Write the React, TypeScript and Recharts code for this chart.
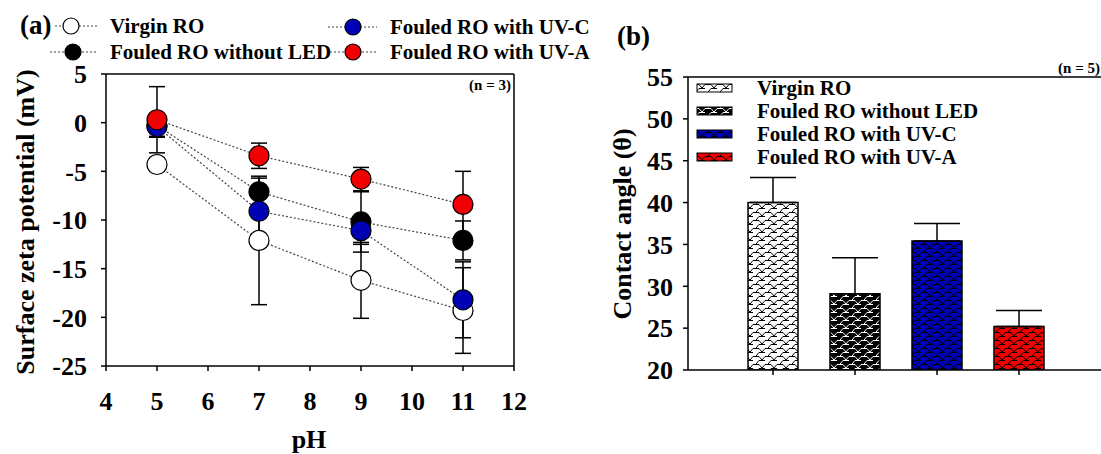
import {
  LineChart,
  Line,
  BarChart,
  Bar,
  Cell,
  XAxis,
  YAxis,
  ErrorBar,
  ReferenceLine,
  Label,
} from 'recharts';

const FONT = '"Liberation Serif", "Times New Roman", serif';

// (a) surface zeta potential vs pH
const PH = [5, 7, 9, 11];
const PH_TICKS = [4, 5, 6, 7, 8, 9, 10, 11, 12];
const ZETA_TICKS = [-25, -20, -15, -10, -5, 0, 5];
const VIRGIN_ZETA = [-4.3, -12.1, -16.2, -19.3];
const VIRGIN_ZETA_ERR = [0.7, 6.6, 3.9, 4.4];
const NO_LED_ZETA = [-0.3, -7.1, -10.2, -12.1];
const NO_LED_ZETA_ERR = [1.2, 1.4, 3.1, 2.0];
const UVC_ZETA = [-0.4, -9.1, -11.1, -18.2];
const UVC_ZETA_ERR = [1.0, 2.3, 1.4, 3.9];
const UVA_ZETA = [0.3, -3.4, -5.8, -8.4];
const UVA_ZETA_ERR = [3.4, 1.3, 1.2, 3.4];

// (b) contact angle
const MEMBRANES = ['Virgin RO', 'Fouled RO without LED', 'Fouled RO with UV-C', 'Fouled RO with UV-A'];
const CONTACT_ANGLE = [40.0, 29.1, 35.4, 25.2];
const CONTACT_ANGLE_ERR = [3.0, 4.3, 2.1, 1.9];
const ANGLE_TICKS = [20, 25, 30, 35, 40, 45, 50, 55];

const SERIES = [
  { key: 'virgin', color: '#ffffff', hatch: '#000000' },
  { key: 'noLed', color: '#000000', hatch: '#ffffff' },
  { key: 'uvc', color: '#0000b4', hatch: '#000000' },
  { key: 'uva', color: '#f00000', hatch: '#000000' },
];

const zetaRows = PH.map((ph, i) => ({
  ph,
  virgin: VIRGIN_ZETA[i],
  virginErr: VIRGIN_ZETA_ERR[i],
  noLed: NO_LED_ZETA[i],
  noLedErr: NO_LED_ZETA_ERR[i],
  uvc: UVC_ZETA[i],
  uvcErr: UVC_ZETA_ERR[i],
  uva: UVA_ZETA[i],
  uvaErr: UVA_ZETA_ERR[i],
}));

const angleRows = MEMBRANES.map((name, i) => ({
  name,
  angle: CONTACT_ANGLE[i],
  err: [0, CONTACT_ANGLE_ERR[i]],
}));

const tickStyle = { fontSize: 26, fontWeight: 700, fill: '#000', fontFamily: FONT };
const textStyle = { fontWeight: 700, fill: '#000', fontFamily: FONT };

// staggered slanted-brick fill like the original hatch
function Patterns({ prefix }: { prefix: string }) {
  return (
    <defs>
      {SERIES.map((s) => (
        <pattern key={s.key} id={`${prefix}-${s.key}`} width={12} height={8} patternUnits="userSpaceOnUse">
          <rect width={12} height={8} fill={s.color} />
          <path
            d="M0,4 L3,0.5 H9 M6,8 L9,4.5 H12 M-3,4.5 H3 L6,8 M3,4.5"
            fill="none"
            stroke={s.hatch}
            strokeWidth={1}
          />
        </pattern>
      ))}
    </defs>
  );
}

function ZetaLegend() {
  const items = [
    { label: 'Virgin RO', s: SERIES[0], x1: 55, x2: 97, cx: 71, tx: 110, y: 26 },
    { label: 'Fouled RO without LED', s: SERIES[1], x1: 50, x2: 97, cx: 73, tx: 110, y: 52 },
    { label: 'Fouled RO with UV-C', s: SERIES[2], x1: 328, x2: 377, cx: 353, tx: 390, y: 27 },
    { label: 'Fouled RO with UV-A', s: SERIES[3], x1: 330, x2: 377, cx: 353, tx: 390, y: 52 },
  ];
  return (
    <svg width={600} height={70} style={{ position: 'absolute', left: 0, top: 0 }}>
      <text x={20} y={34} style={{ ...textStyle, fontSize: 27 }}>(a)</text>
      {items.map((it) => (
        <g key={it.label}>
          <line x1={it.x1} x2={it.x2} y1={it.y} y2={it.y} stroke="#444" strokeWidth={1.2} strokeDasharray="2 2" />
          <circle cx={it.cx} cy={it.y} r={8} fill={it.s.color} stroke="#000" strokeWidth={1.2} />
          <text x={it.tx} y={it.y + 7} style={{ ...textStyle, fontSize: 21 }}>{it.label}</text>
        </g>
      ))}
    </svg>
  );
}

function AngleLegend() {
  const ys = [88, 111, 134, 157];
  return (
    <svg width={501} height={200} style={{ position: 'absolute', left: 600, top: 0 }}>
      <Patterns prefix="lg" />
      <text x={17} y={45} style={{ ...textStyle, fontSize: 27 }}>(b)</text>
      <text x={500} y={73} textAnchor="end" style={{ ...textStyle, fontSize: 15 }}>(n = 5)</text>
      {MEMBRANES.map((m, i) => (
        <g key={m}>
          <rect x={97} y={ys[i] - 4} width={35} height={8} fill={`url(#lg-${SERIES[i].key})`} stroke="#000" strokeWidth={1} />
          <text x={157} y={ys[i] + 7} style={{ ...textStyle, fontSize: 21 }}>{m}</text>
        </g>
      ))}
    </svg>
  );
}

export default function App() {
  return (
    <div style={{ position: 'absolute', left: 0, top: 0, width: 1101, height: 454, background: '#fff', overflow: 'hidden' }}>
      <div style={{ position: 'absolute', left: 0, top: 0 }}>
        <LineChart width={560} height={454} data={zetaRows} margin={{ top: 74, right: 46, bottom: 0, left: 0 }}>
          <XAxis
            dataKey="ph"
            type="number"
            domain={[4, 12]}
            ticks={PH_TICKS}
            allowDataOverflow
            height={88}
            tick={tickStyle}
            tickSize={5}
            tickMargin={21}
            stroke="#000"
            strokeWidth={1.5}
          >
            <Label
              content={() => (
                <text x={309} y={448} textAnchor="middle" style={{ ...textStyle, fontSize: 26 }}>pH</text>
              )}
            />
          </XAxis>
          <YAxis
            type="number"
            domain={[-25, 5]}
            ticks={ZETA_TICKS}
            allowDataOverflow
            width={106}
            tick={tickStyle}
            tickSize={5}
            tickMargin={14}
            stroke="#000"
            strokeWidth={1.5}
          >
            <Label
              content={() => (
                <text
                  x={25}
                  y={222}
                  transform="rotate(-90 25 222)"
                  textAnchor="middle"
                  dominantBaseline="central"
                  style={{ ...textStyle, fontSize: 26 }}
                >
                  Surface zeta potential (mV)
                </text>
              )}
            />
          </YAxis>
          <ReferenceLine y={5} stroke="#000" strokeWidth={1.5} />
          <ReferenceLine x={12} stroke="#000" strokeWidth={1.5} />
          {SERIES.map((s) => (
            <Line
              key={s.key}
              dataKey={s.key}
              stroke="#444"
              strokeWidth={1.2}
              strokeDasharray="2 2"
              isAnimationActive={false}
              activeDot={false}
              dot={(p: any) => (
                <circle key={`${s.key}-${p.index}`} cx={p.cx} cy={p.cy} r={10} fill={s.color} stroke="#000" strokeWidth={1.2} />
              )}
            >
              <ErrorBar dataKey={`${s.key}Err`} width={8} stroke="#000" strokeWidth={1.5} direction="y" />
            </Line>
          ))}
        </LineChart>
        <svg width={560} height={454} style={{ position: 'absolute', left: 0, top: 0, pointerEvents: 'none' }}>
          <text x={511} y={90} textAnchor="end" style={{ ...textStyle, fontSize: 15 }}>(n = 3)</text>
        </svg>
      </div>
      <ZetaLegend />
      <div style={{ position: 'absolute', left: 600, top: 0 }}>
        <BarChart width={501} height={454} data={angleRows} margin={{ top: 77, right: 0, bottom: 0, left: 0 }}>
          <Patterns prefix="bar" />
          <XAxis
            dataKey="name"
            height={84}
            padding={{ left: 44, right: 41 }}
            tickFormatter={() => ''}
            tickSize={5}
            stroke="#000"
            strokeWidth={1.5}
          />
          <YAxis
            type="number"
            domain={[20, 55]}
            ticks={ANGLE_TICKS}
            allowDataOverflow
            width={88}
            tick={tickStyle}
            tickSize={5}
            tickMargin={10}
            stroke="#000"
            strokeWidth={1.5}
          >
            <Label
              content={() => (
                <text
                  x={22}
                  y={224}
                  transform="rotate(-90 22 224)"
                  textAnchor="middle"
                  dominantBaseline="central"
                  style={{ ...textStyle, fontSize: 26 }}
                >
                  Contact angle (θ)
                </text>
              )}
            />
          </YAxis>
          <ReferenceLine y={55} stroke="#000" strokeWidth={1.5} />
          <Bar dataKey="angle" barSize={50} stroke="#000" strokeWidth={1.5} isAnimationActive={false}>
            {angleRows.map((r, i) => (
              <Cell key={r.name} fill={`url(#bar-${SERIES[i].key})`} />
            ))}
            <ErrorBar dataKey="err" width={23} stroke="#000" strokeWidth={1.5} direction="y" />
          </Bar>
        </BarChart>
      </div>
      <AngleLegend />
    </div>
  );
}
